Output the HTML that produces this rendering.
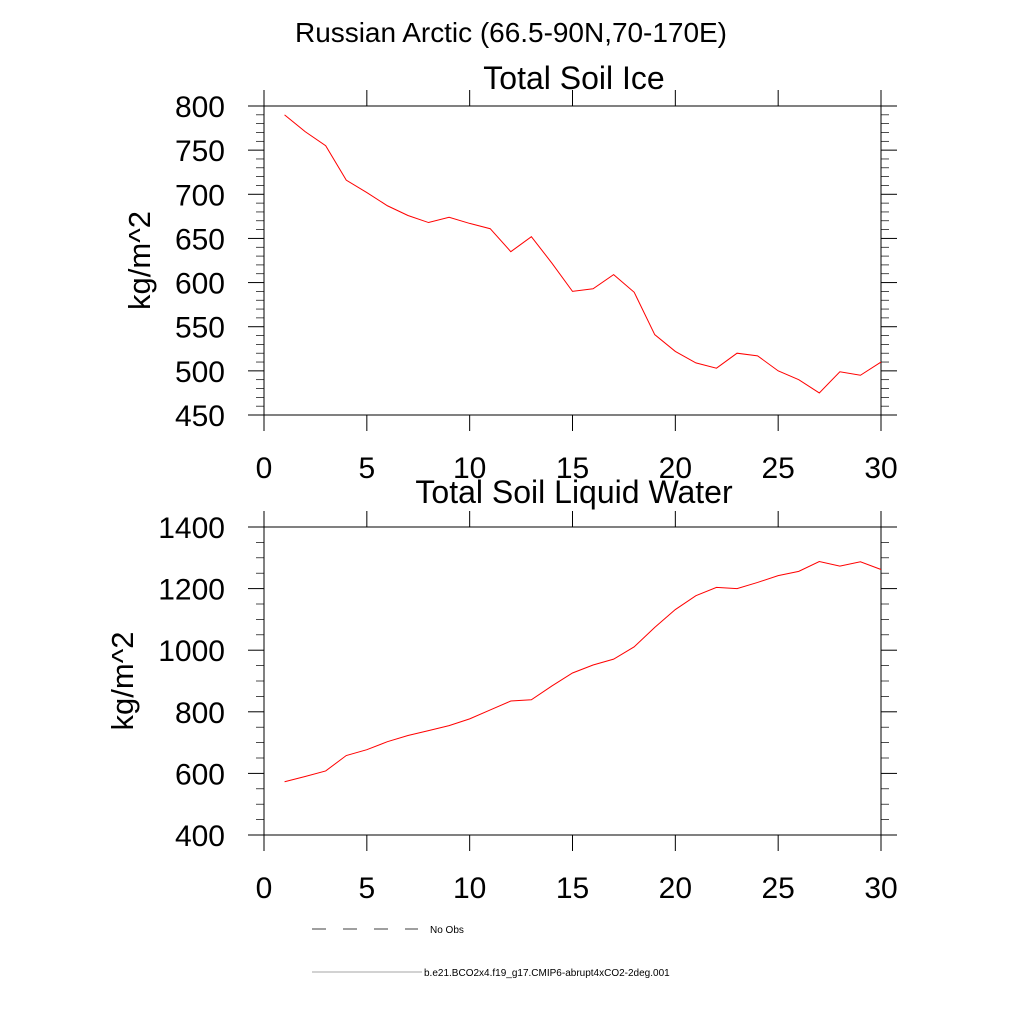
<!DOCTYPE html>
<html><head><meta charset="utf-8"><style>body{margin:0;background:#fff}svg{display:block}</style></head>
<body>
<svg id="chart" width="1024" height="1024" xmlns="http://www.w3.org/2000/svg" font-family="Liberation Sans, sans-serif">
<text x="511" y="42" font-size="28" text-anchor="middle" textLength="432">Russian Arctic (66.5-90N,70-170E)</text>
<g id="p1"></g><g id="p2"></g>
<line x1="312" y1="929" x2="418" y2="929" stroke="#000" stroke-width="0.8" stroke-dasharray="14,17"/>
<text x="430" y="933" font-size="10">No Obs</text>
<line x1="312" y1="972" x2="422" y2="972" stroke="#888" stroke-width="0.8"/>
<text x="424" y="976" font-size="10">b.e21.BCO2x4.f19_g17.CMIP6-abrupt4xCO2-2deg.001</text>
</svg>
<script>
const years=[1,2,3,4,5,6,7,8,9,10,11,12,13,14,15,16,17,18,19,20,21,22,23,24,25,26,27,28,29,30];
const iceValues=[790,771,755,716,702,687,676,668,674,667,661,635,652,622,590,593,609,589,541,522,509,503,520,517,500,490,475,499,495,510];
const liqValues=[573,590,608,658,677,703,723,739,755,777,806,835,839,884,926,952,971,1011,1074,1132,1177,1204,1200,1220,1242,1256,1288,1273,1287,1262];
const xTicks=[0,5,10,15,20,25,30];
const iceTicks=[450,500,550,600,650,700,750,800];
const liqTicks=[400,600,800,1000,1200,1400];
const NS='http://www.w3.org/2000/svg';
function mk(p,t,a){const e=document.createElementNS(NS,t);for(const k in a)e.setAttribute(k,a[k]);p.appendChild(e);return e;}
function panel(g,name,title,vals,yt,ymin,ymax,minor,top,bot,titleY,ylabX){
  const L=264,R=881;
  const xs=v=>L+(v-0)/(30-0)*(R-L);
  const ys=v=>bot-(v-ymin)/(ymax-ymin)*(bot-top);
  let e=mk(g,'rect',{x:L,y:top,width:R-L,height:bot-top,fill:'none',stroke:'#000','stroke-width':1});
  
  for(let v=ymin;v<=ymax+1e-9;v+=minor){const maj=yt.includes(v);const len=maj?16:8;const y=ys(v);
    e=mk(g,'line',{x1:L-len,y1:y,x2:L,y2:y,stroke:'#000','stroke-width':maj?1:0.7});
    
    e=mk(g,'line',{x1:R,y1:y,x2:R+len,y2:y,stroke:'#000','stroke-width':maj?1:0.7});
    }
  yt.forEach(v=>{e=mk(g,'text',{x:L-39,y:ys(v)+11,'font-size':30,'text-anchor':'end'});e.textContent=v;
    });
  xTicks.forEach(v=>{const x=xs(v);
    e=mk(g,'line',{x1:x,y1:bot,x2:x,y2:bot+16,stroke:'#000'});
    e=mk(g,'line',{x1:x,y1:top-16,x2:x,y2:top,stroke:'#000'});
    e=mk(g,'text',{x:x,y:bot+63,'font-size':30,'text-anchor':'middle'});e.textContent=v;
    });
  e=mk(g,'text',{x:574,y:titleY,'font-size':32,'text-anchor':'middle'});e.textContent=title;
  
  const cy=(top+bot)/2;
  e=mk(g,'text',{x:ylabX,y:cy,'font-size':31,'text-anchor':'middle',transform:`rotate(-90 ${ylabX} ${cy})`});e.textContent='kg/m^2';
  
  e=mk(g,'polyline',{points:years.map((yr,i)=>xs(yr)+','+ys(vals[i])).join(' '),fill:'none',stroke:'#f00','stroke-width':1});
  
}
panel(document.getElementById('p1'),'ice-panel','Total Soil Ice',iceValues,iceTicks,450,800,10,106,415,89,150);
panel(document.getElementById('p2'),'liquid-panel','Total Soil Liquid Water',liqValues,liqTicks,400,1400,50,527,835,503,133);
</script>
</body></html>
